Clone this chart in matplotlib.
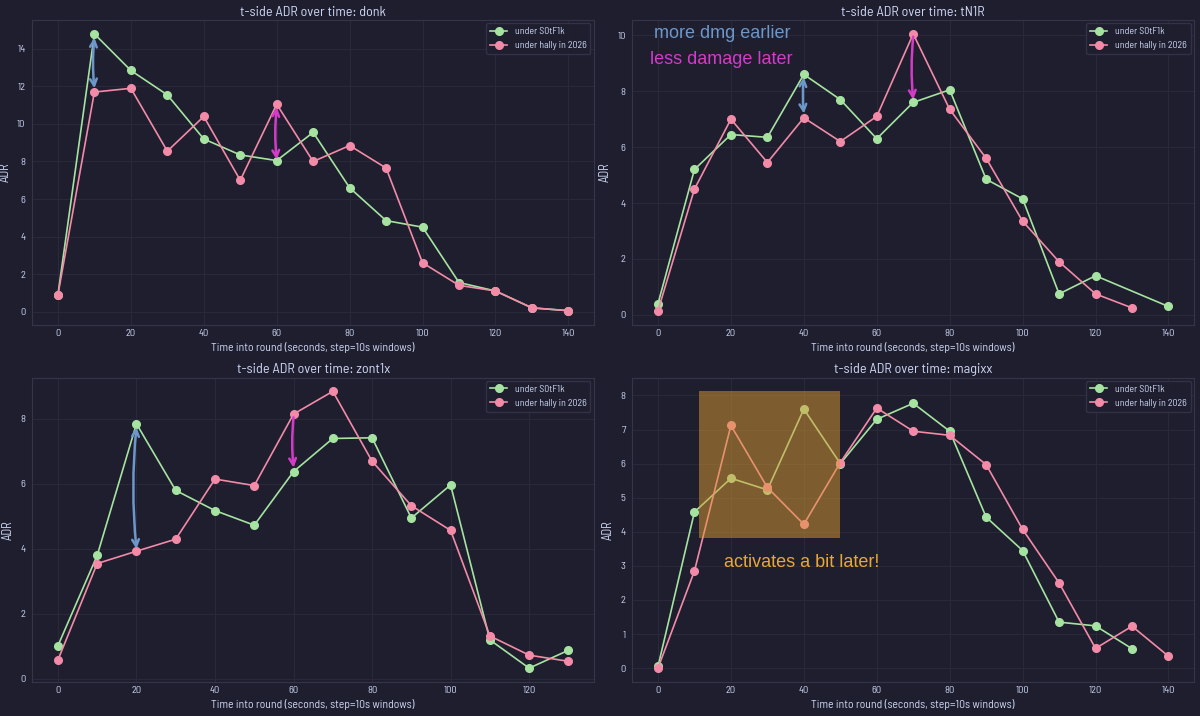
import matplotlib.pyplot as plt
import matplotlib.patches as mpatches

# ---- data ----
PLAYERS = ["donk", "tN1R", "zont1x", "magixx"]

donk_x_a = [0, 10, 20, 30, 40, 50, 60, 70, 80, 90, 100, 110, 120, 130, 140]
donk_a = [0.9, 14.8, 12.85, 11.55, 9.2, 8.35, 8.05, 9.55, 6.6, 4.85, 4.5, 1.55, 1.1, 0.2, 0.05]
donk_x_b = [0, 10, 20, 30, 40, 50, 60, 70, 80, 90, 100, 110, 120, 130, 140]
donk_b = [0.9, 11.7, 11.9, 8.55, 10.4, 7.0, 11.05, 8.0, 8.85, 7.65, 2.6, 1.4, 1.1, 0.2, 0.05]

tn1r_x_a = [0, 10, 20, 30, 40, 50, 60, 70, 80, 90, 100, 110, 120, 140]
tn1r_a = [0.4, 5.2, 6.45, 6.35, 8.6, 7.7, 6.3, 7.6, 8.05, 4.85, 4.15, 0.75, 1.4, 0.3]
tn1r_x_b = [0, 10, 20, 30, 40, 50, 60, 70, 80, 90, 100, 110, 120, 130]
tn1r_b = [0.15, 4.5, 7.0, 5.45, 7.05, 6.2, 7.1, 10.05, 7.35, 5.6, 3.35, 1.9, 0.75, 0.25]

zont_x_a = [0, 10, 20, 30, 40, 50, 60, 70, 80, 90, 100, 110, 120, 130]
zont_a = [1.02, 3.8, 7.85, 5.8, 5.18, 4.73, 6.38, 7.4, 7.42, 4.95, 5.97, 1.2, 0.33, 0.88]
zont_x_b = [0, 10, 20, 30, 40, 50, 60, 70, 80, 90, 100, 110, 120, 130]
zont_b = [0.58, 3.55, 3.93, 4.3, 6.15, 5.95, 8.15, 8.85, 6.7, 5.33, 4.57, 1.32, 0.73, 0.54]

magixx_x_a = [0, 10, 20, 30, 40, 50, 60, 70, 80, 90, 100, 110, 120, 130]
magixx_a = [0.05, 4.58, 5.57, 5.23, 7.6, 6.0, 7.3, 7.77, 6.95, 4.43, 3.45, 1.35, 1.24, 0.57]
magixx_x_b = [0, 10, 20, 30, 40, 50, 60, 70, 80, 90, 100, 110, 120, 130, 140]
magixx_b = [0.0, 2.85, 7.12, 5.3, 4.22, 6.03, 7.63, 6.95, 6.83, 5.97, 4.07, 2.5, 0.58, 1.23, 0.35]

SERIES = {
    "donk": (donk_x_a, donk_a, donk_x_b, donk_b),
    "tN1R": (tn1r_x_a, tn1r_a, tn1r_x_b, tn1r_b),
    "zont1x": (zont_x_a, zont_a, zont_x_b, zont_b),
    "magixx": (magixx_x_a, magixx_a, magixx_x_b, magixx_b),
}

LABEL_A = "under S0tF1k"
LABEL_B = "under hally in 2026"

# hand-drawn arrows: (player, x, y_start, y_end, colour, style)
BLUE = "#6d97c9"
MAGENTA = "#d43cc8"
ARROWS = [
    ("donk", 10, 14.6, 11.9, BLUE, "<->"),
    ("donk", 60, 10.9, 8.1, MAGENTA, "<->"),
    ("tN1R", 40, 8.5, 7.2, BLUE, "<->"),
    ("tN1R", 70, 9.95, 7.7, MAGENTA, "->"),
    ("zont1x", 20, 7.75, 4.0, BLUE, "<->"),
    ("zont1x", 60, 8.05, 6.5, MAGENTA, "->"),
]

# ---- style ----
BG = "#1e1e2e"
FG = "#cdd6f4"
GREEN = "#a6e3a1"
PINK = "#f38ba8"
SPINE = "#34344a"
GRID = "#292939"

plt.rcParams["font.family"] = ["Barlow Semi Condensed", "Roboto Condensed", "DejaVu Sans"]

fig, axes = plt.subplots(2, 2, figsize=(12, 7.16), dpi=100, facecolor=BG)
fig.subplots_adjust(left=0.027, right=0.995, top=0.972, bottom=0.0475, wspace=0.0686, hspace=0.174)

for ax, player in zip(axes.flatten(), PLAYERS):
    xa, ya, xb, yb = SERIES[player]
    ax.set_facecolor(BG)
    ax.plot(xa, ya, color=GREEN, marker="o", markersize=5.5, linewidth=1.2, label=LABEL_A, zorder=3)
    ax.plot(xb, yb, color=PINK, marker="o", markersize=5.5, linewidth=1.2, label=LABEL_B, zorder=3)

    ax.set_title(f"t-side ADR over time: {player}", color=FG, fontsize=10.2, pad=3)
    ax.set_xlabel("Time into round (seconds, step=10s windows)", color=FG, fontsize=8.4, labelpad=3)
    ax.set_ylabel("ADR", color=FG, fontsize=9, labelpad=4)
    ax.tick_params(colors=FG, labelsize=7.5, length=0)
    ax.tick_params(axis="x", pad=3)
    ax.tick_params(axis="y", pad=5)
    ax.grid(True, color=GRID, linewidth=0.8)
    for s in ax.spines.values():
        s.set_color(SPINE)
    ax.legend(loc="upper right", fontsize=7.1, facecolor=BG, edgecolor=SPINE,
              labelcolor=FG, framealpha=0.9, borderaxespad=0.35, handlelength=1.7)

    for p, x, y0, y1, c, st in ARROWS:
        if p == player:
            ax.annotate("", xy=(x, y1), xytext=(x, y0),
                        arrowprops=dict(arrowstyle=st, color=c, lw=1.8,
                                        connectionstyle="arc3,rad=0.05",
                                        mutation_scale=12, shrinkA=0, shrinkB=0),
                        zorder=4)

# annotations on tN1R
ax2 = axes[0, 1]
ax2.text(-1.2, 10.07, "more dmg earlier", color=BLUE, fontsize=13, family="Liberation Sans", va="center")
ax2.text(-2.1, 9.13, "less damage later", color=MAGENTA, fontsize=13, family="Liberation Sans", va="center")

# highlight on magixx (drawn over the lines, semi-transparent)
ax4 = axes[1, 1]
ax4.add_patch(mpatches.Rectangle((11.3, 3.83), 38.7, 4.29, facecolor="#dc9a32", alpha=0.5,
                                 edgecolor="none", zorder=5))
ax4.text(18.1, 3.1, "activates a bit later!", color="#e8a838", fontsize=13,
         family="Liberation Sans", va="center")

plt.savefig("out.png", dpi=100, facecolor=BG)
